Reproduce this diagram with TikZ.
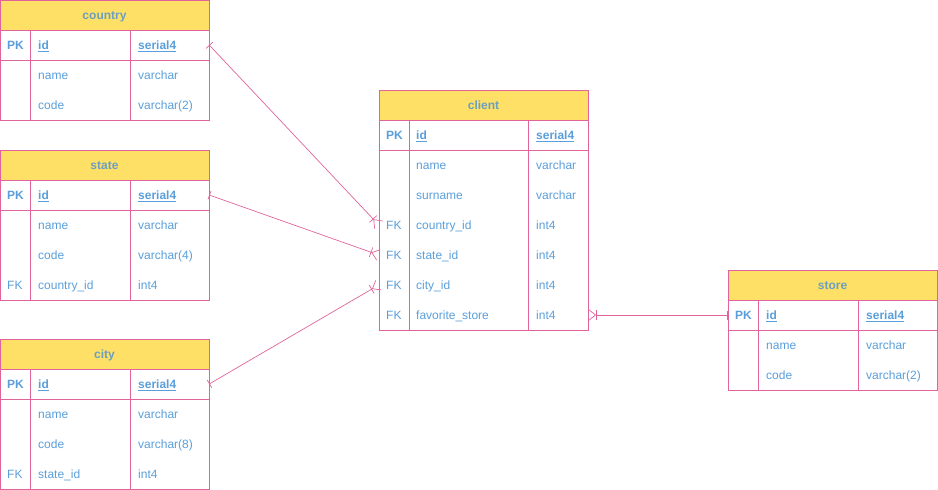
\documentclass[tikz,border=0pt]{standalone}
\usepackage{fontspec}
\setmainfont{Liberation Sans}
\usetikzlibrary{arrows.meta}
\definecolor{erYellow}{HTML}{FFE066}
\definecolor{erPink}{HTML}{E0649B}
\definecolor{erBlue}{HTML}{5A9FDB}
\definecolor{erHead}{HTML}{6B9FBF}
\tikzset{
  hdbox/.style={fill=erYellow,draw=erPink,line width=0.8pt},
  tbbox/.style={fill=white,draw=erPink,line width=0.8pt},
  sepline/.style={draw=erPink,line width=0.8pt},
  hdtext/.style={font=\fontsize{12}{14}\selectfont\bfseries,text=erHead,inner sep=0pt,anchor=base},
  celltext/.style={font=\fontsize{12}{14}\selectfont,text=erBlue,inner sep=0pt,anchor=base west},
  pktext/.style={celltext,font=\fontsize{12}{14}\selectfont\bfseries},
  rowbox/.style={minimum width=209pt,minimum height=30pt,inner sep=0pt},
  erlink/.style={draw=erPink,line width=0.7pt},
  onemany/.style={{Bar[width=9pt]}-{Bar[width=10pt]Straight Barb[reversed,length=7pt,width=11pt]}}
}

\begin{document}
\begin{tikzpicture}[x=1pt,y=-1pt]
\useasboundingbox (0,0) rectangle (938,490);

% country
\draw[hdbox] (0,0) rectangle (209,30);
\draw[tbbox] (0,30) rectangle (209,120);
\draw[sepline] (0,60) -- (209,60) (30,30) -- (30,120) (130,30) -- (130,120);
\node[hdtext] (country) at (104.5,19.3) {country};
\node[rowbox] (country-pk) at (104.5,45) {};
\node[pktext] (country-k0) at (7,49.3) {PK};
\node[pktext] (country-n0) at (38,49.3) {\underline{id}};
\node[pktext] (country-t0) at (138,49.3) {\underline{serial4}};
\foreach \k/\n/\t [count=\i] in {{}/name/varchar,{}/code/varchar(2)}{
  \node[celltext] (country-k\i) at (7,49.3+30*\i) {\k};
  \node[celltext] (country-n\i) at (38,49.3+30*\i) {\n};
  \node[celltext] (country-t\i) at (138,49.3+30*\i) {\t};
}

% state
\draw[hdbox] (0,150) rectangle (209,180);
\draw[tbbox] (0,180) rectangle (209,300);
\draw[sepline] (0,210) -- (209,210) (30,180) -- (30,300) (130,180) -- (130,300);
\node[hdtext] (state) at (104.5,169.3) {state};
\node[rowbox] (state-pk) at (104.5,195) {};
\node[pktext] (state-k0) at (7,199.3) {PK};
\node[pktext] (state-n0) at (38,199.3) {\underline{id}};
\node[pktext] (state-t0) at (138,199.3) {\underline{serial4}};
\foreach \k/\n/\t [count=\i] in {{}/name/varchar,{}/code/varchar(4),FK/country\_id/int4}{
  \node[celltext] (state-k\i) at (7,199.3+30*\i) {\k};
  \node[celltext] (state-n\i) at (38,199.3+30*\i) {\n};
  \node[celltext] (state-t\i) at (138,199.3+30*\i) {\t};
}

% city
\draw[hdbox] (0,339) rectangle (209,369);
\draw[tbbox] (0,369) rectangle (209,489);
\draw[sepline] (0,399) -- (209,399) (30,369) -- (30,489) (130,369) -- (130,489);
\node[hdtext] (city) at (104.5,358.3) {city};
\node[rowbox] (city-pk) at (104.5,384) {};
\node[pktext] (city-k0) at (7,388.3) {PK};
\node[pktext] (city-n0) at (38,388.3) {\underline{id}};
\node[pktext] (city-t0) at (138,388.3) {\underline{serial4}};
\foreach \k/\n/\t [count=\i] in {{}/name/varchar,{}/code/varchar(8),FK/state\_id/int4}{
  \node[celltext] (city-k\i) at (7,388.3+30*\i) {\k};
  \node[celltext] (city-n\i) at (38,388.3+30*\i) {\n};
  \node[celltext] (city-t\i) at (138,388.3+30*\i) {\t};
}

% client
\draw[hdbox] (379,90) rectangle (588,120);
\draw[tbbox] (379,120) rectangle (588,330);
\draw[sepline] (379,150) -- (588,150) (409,120) -- (409,330) (528,120) -- (528,330);
\node[hdtext] (client) at (483.5,109.3) {client};
\node[rowbox] (client-pk) at (483.5,135) {};
\node[pktext] (client-k0) at (386,139.3) {PK};
\node[pktext] (client-n0) at (416,139.3) {\underline{id}};
\node[pktext] (client-t0) at (536,139.3) {\underline{serial4}};
\foreach \k/\n/\t [count=\i] in {{}/name/varchar,{}/surname/varchar,FK/country\_id/int4,
    FK/state\_id/int4,FK/city\_id/int4,FK/favorite\_store/int4}{
  \node[rowbox] (client-r\i) at (483.5,135+30*\i) {};
  \node[celltext] (client-k\i) at (386,139.3+30*\i) {\k};
  \node[celltext] (client-n\i) at (416,139.3+30*\i) {\n};
  \node[celltext] (client-t\i) at (536,139.3+30*\i) {\t};
}

% store
\draw[hdbox] (728,270) rectangle (937,300);
\draw[tbbox] (728,300) rectangle (937,390);
\draw[sepline] (728,330) -- (937,330) (758,300) -- (758,390) (858,300) -- (858,390);
\node[hdtext] (store) at (832.5,289.3) {store};
\node[rowbox] (store-pk) at (832.5,315) {};
\node[pktext] (store-k0) at (735,319.3) {PK};
\node[pktext] (store-n0) at (766,319.3) {\underline{id}};
\node[pktext] (store-t0) at (866,319.3) {\underline{serial4}};
\foreach \k/\n/\t [count=\i] in {{}/name/varchar,{}/code/varchar(2)}{
  \node[celltext] (store-k\i) at (735,319.3+30*\i) {\k};
  \node[celltext] (store-n\i) at (766,319.3+30*\i) {\n};
  \node[celltext] (store-t\i) at (866,319.3+30*\i) {\t};
}

% relations
\draw[erlink,onemany] (country-pk.east) -- (client-r3.west);
\draw[erlink,onemany] (state-pk.east) -- (client-r4.west);
\draw[erlink,onemany] (city-pk.east) -- (client-r5.west);
\draw[erlink,onemany] (store-pk.west) -- (client-r6.east);

\end{tikzpicture}
\end{document}
